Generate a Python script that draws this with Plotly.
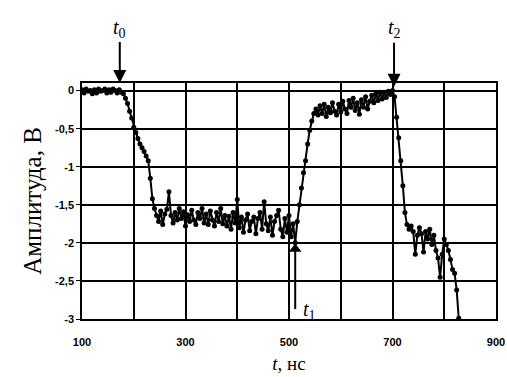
import plotly.graph_objects as go

# time samples, ns
t_ns = list(range(100, 832, 4))

# amplitude, V
amp_v = [
    0.01, -0.03, 0.02, -0.01, 0.0, -0.04, 0.01, -0.03, 0.02, -0.01,
    0.0, 0.02, -0.03, 0.01, -0.02, 0.02, 0.0, -0.03, 0.01, -0.02,
    -0.04, -0.10, -0.17, -0.27, -0.36, -0.48, -0.55, -0.63, -0.70, -0.75,
    -0.80, -0.86, -0.92, -1.15, -1.42, -1.55, -1.64, -1.72, -1.58, -1.76,
    -1.62, -1.56, -1.33, -1.64, -1.74, -1.60, -1.70, -1.55, -1.68, -1.59,
    -1.78, -1.63, -1.72, -1.57, -1.70, -1.76, -1.60, -1.68, -1.55, -1.74,
    -1.62, -1.76, -1.58, -1.70, -1.78, -1.60, -1.72, -1.55, -1.75, -1.64,
    -1.78, -1.65, -1.82, -1.60, -1.74, -1.43, -1.80, -1.66, -1.86, -1.70,
    -1.62, -1.84, -1.72, -1.66, -1.88, -1.68, -1.60, -1.82, -1.46, -1.75,
    -1.84, -1.66, -1.90, -1.72, -1.64, -1.57, -1.82, -1.92, -1.68, -1.86,
    -1.64, -1.92, -1.75, -2.00, -1.72, -1.50, -1.28, -1.08, -0.92, -0.70,
    -0.52, -0.40, -0.30, -0.24, -0.32, -0.20, -0.30, -0.18, -0.34, -0.22,
    -0.29, -0.16, -0.27, -0.32, -0.18, -0.28, -0.14, -0.24, -0.30, -0.13,
    -0.22, -0.10, -0.26, -0.16, -0.31, -0.12, -0.22, -0.08, -0.24, -0.14,
    -0.06, -0.16, -0.04, -0.13, -0.02, -0.11, -0.02, -0.09, -0.01, -0.05,
    0.0, -0.08, -0.35, -0.62, -0.92, -1.25, -1.60, -1.76, -1.82, -1.78,
    -1.85, -2.15, -1.90, -1.80, -1.88, -2.12, -1.85, -1.95, -1.82, -2.02,
    -1.90, -2.10, -2.20, -2.45, -2.15, -1.95, -2.02, -2.10, -2.22, -2.35,
    -2.40, -2.62, -2.99,
]

x_tickvals = [100, 300, 500, 700, 900]
x_ticktext = ["100", "300", "500", "700", "900"]
y_tickvals = [0, -0.5, -1, -1.5, -2, -2.5, -3]
y_ticktext = ["0", "-0,5", "-1", "-1,5", "-2", "-2,5", "-3"]

# marker times
t0, t1, t2 = 173, 512, 703
t1_level = -2.0
t1_tail = -2.87

serif = "Liberation Serif, Times New Roman, serif"
sans = "Liberation Sans, Arial, sans-serif"

fig = go.Figure()
fig.add_trace(go.Scatter(
    x=t_ns, y=amp_v, mode="lines+markers",
    line=dict(color="black", width=2),
    marker=dict(color="black", size=5),
    showlegend=False, hoverinfo="skip",
))
# t1 upward arrow
fig.add_trace(go.Scatter(
    x=[t1, t1], y=[t1_tail, t1_level - 0.07], mode="lines",
    line=dict(color="black", width=2), showlegend=False, hoverinfo="skip",
    cliponaxis=False,
))
fig.add_trace(go.Scatter(
    x=[t1], y=[t1_level - 0.08], mode="markers",
    marker=dict(symbol="triangle-up", size=11, color="black"),
    showlegend=False, hoverinfo="skip", cliponaxis=False,
))

fig.update_layout(
    width=507, height=377,
    margin=dict(l=82, r=11, t=83, b=58),
    paper_bgcolor="white", plot_bgcolor="white",
    xaxis=dict(
        range=[100, 900], tickvals=x_tickvals, ticktext=x_ticktext,
        showgrid=True, gridcolor="black", gridwidth=1.5,
        minor=dict(dtick=100, tick0=100, showgrid=True, gridcolor="black", gridwidth=1.5),
        showline=True, linecolor="black", linewidth=1.5, mirror=True,
        ticks="", zeroline=False, automargin=False,
        ticklabeloverflow="allow", ticklabelstandoff=12,
        tickfont=dict(family=sans, size=11, color="black", weight="bold"),
        title=dict(text="<i>t</i>, нс", font=dict(family=serif, size=19, color="black"), standoff=10),
    ),
    yaxis=dict(
        range=[-3, 0.1], tickvals=y_tickvals, ticktext=y_ticktext,
        showgrid=True, gridcolor="black", gridwidth=1.5,
        showline=True, linecolor="black", linewidth=1.5, mirror=True,
        ticks="outside", ticklen=4, tickcolor="black", zeroline=False, automargin=False,
        tickfont=dict(family=sans, size=11, color="black", weight="bold"),
        title=dict(text="Амплитуда, В", font=dict(family=serif, size=25, color="black"), standoff=6),
    ),
)

lab_font = dict(family=serif, size=20, color="black")
arrow = dict(showarrow=True, arrowhead=2, arrowsize=1.3, arrowwidth=2, arrowcolor="black")
fig.add_annotation(x=t0, y=0.1, xref="x", yref="y", text="<i>t</i><sub>0</sub>",
                   ax=0, ay=-55, font=lab_font, **arrow)
fig.add_annotation(x=t2, y=0.05, xref="x", yref="y", text="<i>t</i><sub>2</sub>",
                   ax=0, ay=-58, font=lab_font, **arrow)
fig.add_annotation(x=t1 + 28, y=-0.025, xref="x", yref="paper", text="<i>t</i><sub>1</sub>",
                   showarrow=False, font=lab_font)

fig.write_html("out.html", config={"displayModeBar": False},
               post_script="document.body.style.margin='0';")
